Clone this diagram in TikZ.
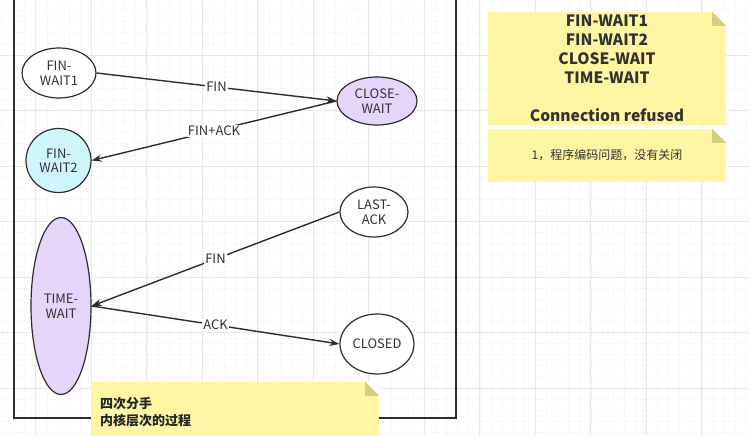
\documentclass[tikz,border=0pt]{standalone}
\usepackage{fontspec}
\setmainfont{Noto Sans CJK SC}
\usetikzlibrary{shapes.geometric,arrows.meta}
\definecolor{lineGray}{RGB}{45,45,45}
\definecolor{textGray}{RGB}{50,50,50}
\definecolor{lavender}{RGB}{229,213,250}
\definecolor{paleCyan}{RGB}{206,246,252}
\definecolor{noteYellow}{RGB}{255,245,163}
\definecolor{noteFold}{RGB}{214,206,126}
\definecolor{gridMajor}{RGB}{232,232,232}
\definecolor{gridMinor}{RGB}{240,240,240}

\begin{document}
\begin{tikzpicture}[
        x=1pt, y=-1pt,
        stnode/.style={ellipse, draw=lineGray, line width=1.2pt, fill=white, inner sep=0pt, align=center, text=textGray, font=\fontsize{13}{14.5}\selectfont},
        trans/.style={-{Stealth[length=10pt,width=7pt]}, line width=1.4pt, draw=lineGray},
        edge_label/.style={fill=white, inner sep=1pt, text=textGray, font=\fontsize{13}{15}\selectfont, midway},
        note/.style={fill=noteYellow, inner sep=0pt}
    ]

        \useasboundingbox (0,0) rectangle (749,436);
        \clip (0,0) rectangle (749,436);
        \fill[white] (0,0) rectangle (749,436);

        % background grid
        \foreach \i in {0,...,70} {
            \draw[gridMinor, line width=0.6pt, dotted] ({2.5+11.1*\i},0) -- ({2.5+11.1*\i},436);
        }
        \foreach \i in {0,...,40} {
            \draw[gridMinor, line width=0.6pt, dotted] (0,{10.5+11.1*\i}) -- (749,{10.5+11.1*\i});
        }
        \foreach \i in {0,...,13} {
            \draw[gridMajor, line width=0.8pt] ({35.5+55.5*\i},0) -- ({35.5+55.5*\i},436);
        }
        \foreach \i in {0,...,7} {
            \draw[gridMajor, line width=0.8pt] (0,{55+55.5*\i}) -- (749,{55+55.5*\i});
        }

        % frame
        \draw[lineGray, line width=1.5pt] (14,-10) rectangle (456,418);

        % states
        \node[stnode, minimum width=74pt, minimum height=50pt] (fin_wait1) at (59,73) {FIN-\\WAIT1};
        \node[stnode, fill=lavender, minimum width=80pt, minimum height=48pt] (close_wait) at (377,101) {CLOSE-\\WAIT};
        \node[stnode, fill=paleCyan, minimum width=65pt, minimum height=64pt] (fin_wait2) at (58.5,160.5) {FIN-\\WAIT2};
        \node[stnode, minimum width=68pt, minimum height=50pt] (last_ack) at (374,212) {LAST-\\ACK};
        \node[stnode, fill=lavender, minimum width=60pt, minimum height=177pt] (time_wait) at (61,306) {TIME-\\WAIT};
        \node[stnode, minimum width=74pt, minimum height=60pt] (closed) at (377,344) {CLOSED};

        % transitions
        \draw[trans] (fin_wait1.east) -- (close_wait.west) node[edge_label] {FIN};
        \draw[trans] (close_wait.west) -- (fin_wait2.east) node[edge_label] {FIN+ACK};
        \draw[trans] (last_ack.west) -- (time_wait.east) node[edge_label] {FIN};
        \draw[trans] (time_wait.east) -- (closed.west) node[edge_label] {ACK};

        % notes
        \node[note, minimum width=238pt, minimum height=113pt, align=center, text=textGray,
              font=\bfseries\fontsize{15.6}{19}\selectfont] (note_states) at (607,68.5)
              {FIN-WAIT1\\FIN-WAIT2\\CLOSE-WAIT\\TIME-WAIT\\[19pt]Connection refused};
        \node[note, minimum width=238pt, minimum height=53pt, align=center, text=textGray,
              font=\fontsize{12}{14}\selectfont] (note_cause) at (607,155.5)
              {1，程序编码问题，没有关闭};
        \node[note, minimum width=288pt, minimum height=60pt, text width=270pt, align=left,
              text=black!85, font=\bfseries\fontsize{13}{17}\selectfont] (note_close) at (235,412)
              {四次分手\\内核层次的过程};

        % folded corners
        \foreach \n in {note_states, note_cause, note_close} {
            \fill[white] (\n.north east) -- ++(-14,0) -- ++(14,14) -- cycle;
            \fill[noteFold] (\n.north east) ++(-14,0) -- ++(0,14) -- ++(14,0) -- cycle;
        }

    \end{tikzpicture}
\end{document}
